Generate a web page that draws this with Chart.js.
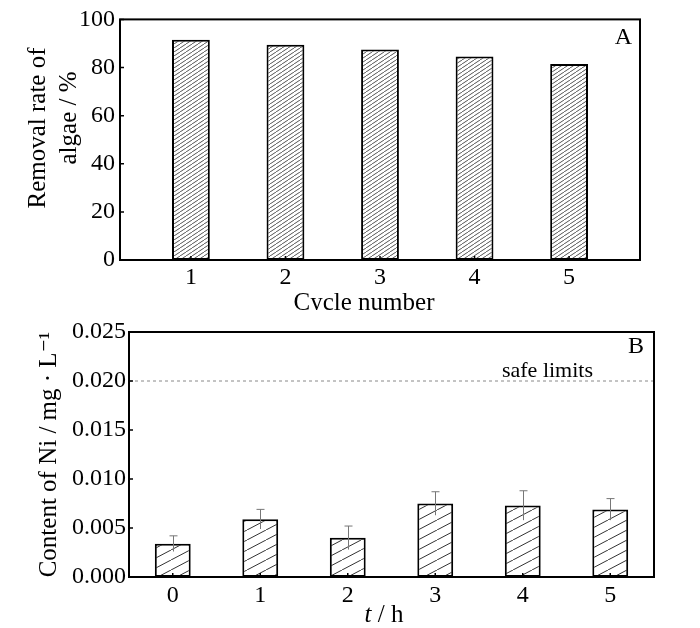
<!DOCTYPE html>
<html><head><meta charset="utf-8">
<script src="https://cdn.jsdelivr.net/npm/chart.js@4"></script>
<style>
html,body{margin:0;padding:0;background:#fff;}
#wrap{position:relative;width:700px;height:628px;background:#fff;}
#cA{position:absolute;left:0;top:0;width:700px;height:310px;}
#cB{position:absolute;left:0;top:310px;width:700px;height:318px;}
</style></head><body>
<div id="wrap"><canvas id="cA" width="700" height="310"></canvas><canvas id="cB" width="700" height="318"></canvas></div>
<script>
// ---- Panel A data ----
const cycles = [1, 2, 3, 4, 5];
const removalRate = [91.5, 89.5, 87.5, 84.6, 81.5];
const removalTicks = [0, 20, 40, 60, 80, 100];
// ---- Panel B data ----
const hours = ['0', '1', '2', '3', '4', '5'];
const niContent = [0.0034, 0.0059, 0.0040, 0.0075, 0.0073, 0.0069];
const niError = [0.0008, 0.0010, 0.0012, 0.0012, 0.0015, 0.0011];
const niTicks = [0, 0.005, 0.010, 0.015, 0.020, 0.025];
const safeLimit = 0.020;

const FONT = "'Liberation Serif','DejaVu Serif',serif";
Chart.defaults.font.family = FONT;
Chart.defaults.font.size = 24;
Chart.defaults.color = '#000';

function makeHatch(w, h, color, lw) {
  const c = document.createElement('canvas'); c.width = w; c.height = h;
  const g = c.getContext('2d');
  g.fillStyle = '#fff'; g.fillRect(0, 0, w, h);
  g.strokeStyle = color; g.lineWidth = lw;
  for (const dx of [-w, 0, w]) { g.beginPath(); g.moveTo(dx, h); g.lineTo(dx + w, 0); g.stroke(); }
  return g.createPattern(c, 'repeat');
}
const patA = makeHatch(6, 4, '#555', 1);
const patB = makeHatch(19, 10, '#333', 1);

function txt(ctx, s, x, y, o = {}) {
  ctx.save();
  ctx.translate(x, y);
  if (o.rot) ctx.rotate(o.rot);
  ctx.font = (o.italic ? 'italic ' : '') + (o.size || 25) + 'px ' + FONT;
  ctx.fillStyle = o.color || '#000';
  ctx.textAlign = o.align || 'center';
  ctx.textBaseline = 'alphabetic';
  ctx.fillText(s, 0, 0);
  ctx.restore();
}

function boxAndTicks(chart, xPix, yPix, len) {
  const { ctx, chartArea: a } = chart;
  ctx.save();
  ctx.strokeStyle = '#000';
  ctx.lineWidth = 1.5;
  ctx.beginPath();
  xPix.forEach(px => { ctx.moveTo(px, a.bottom); ctx.lineTo(px, a.bottom - len); });
  yPix.forEach(py => { ctx.moveTo(a.left, py); ctx.lineTo(a.left + len, py); });
  ctx.stroke();
  ctx.lineWidth = 2;
  ctx.strokeRect(a.left, a.top, a.right - a.left, a.bottom - a.top);
  ctx.restore();
}

const panelA = {
  id: 'panelA',
  afterDraw(chart) {
    const { ctx, chartArea: a, scales: { x, y } } = chart;
    boxAndTicks(chart, cycles.map(v => x.getPixelForValue(v)), removalTicks.map(v => y.getPixelForValue(v)), 4);
    txt(ctx, 'A', a.right - 8, a.top + 25, { size: 24, align: 'right' });
    txt(ctx, 'Cycle number', 364, 310, { size: 25 });
    txt(ctx, 'Removal rate of', 45, 128, { size: 25, rot: -Math.PI / 2 });
    txt(ctx, 'algae / %', 76, 118, { size: 25, rot: -Math.PI / 2 });
  }
};

const panelB = {
  id: 'panelB',
  afterDraw(chart) {
    const { ctx, chartArea: a, scales: { x, y } } = chart;
    const meta = chart.getDatasetMeta(0);
    // safe limit line
    const ly = y.getPixelForValue(safeLimit);
    ctx.save();
    ctx.strokeStyle = '#888'; ctx.lineWidth = 1; ctx.setLineDash([3, 3]);
    ctx.beginPath(); ctx.moveTo(a.left, ly); ctx.lineTo(a.right, ly); ctx.stroke();
    ctx.restore();
    txt(ctx, 'safe limits', a.right - 61, ly - 4, { size: 22, align: 'right' });
    // error bars
    ctx.save();
    ctx.strokeStyle = '#777'; ctx.lineWidth = 1;
    ctx.beginPath();
    meta.data.forEach((bar, i) => {
      const px = Math.round(bar.x) + 0.5;
      const yt = y.getPixelForValue(niContent[i] + niError[i]);
      const yb = y.getPixelForValue(niContent[i] - niError[i]);
      ctx.moveTo(px, yt); ctx.lineTo(px, yb);
      ctx.moveTo(px - 4, yt); ctx.lineTo(px + 4, yt);
    });
    ctx.stroke();
    ctx.restore();
    boxAndTicks(chart, hours.map((h, i) => x.getPixelForTick(i)), niTicks.map(v => y.getPixelForValue(v)), 4);
    txt(ctx, 'B', a.right - 10, a.top + 21, { size: 24, align: 'right' });
    // x title with italic t
    ctx.save();
    ctx.font = 'italic 25px ' + FONT; const w1 = ctx.measureText('t').width;
    ctx.font = '25px ' + FONT; const w2 = ctx.measureText(' / h').width;
    ctx.restore();
    const sx = 384 - (w1 + w2) / 2;
    txt(ctx, 't', sx, 312, { size: 25, italic: true, align: 'left' });
    txt(ctx, ' / h', sx + w1, 312, { size: 25, align: 'left' });
    txt(ctx, 'Content of Ni / mg · L⁻¹', 56, (a.top + a.bottom) / 2, { size: 25, rot: -Math.PI / 2 });
  }
};

new Chart(document.getElementById('cA'), {
  type: 'bar',
  data: {
    datasets: [{
      data: cycles.map((c, i) => ({ x: c, y: removalRate[i] })),
      backgroundColor: patA, borderColor: '#000', borderWidth: 2, borderSkipped: false,
      barPercentage: 0.4, categoryPercentage: 1
    }]
  },
  options: {
    responsive: false, animation: false, devicePixelRatio: 1,
    layout: { padding: { top: 15, right: 60, left: 0, bottom: 0 } },
    plugins: { legend: { display: false }, tooltip: { enabled: false } },
    scales: {
      x: {
        type: 'linear', min: 0.25, max: 5.75, offset: false,
        afterBuildTicks: s => { s.ticks = cycles.map(v => ({ value: v })); },
        grid: { display: false, drawTicks: false, offset: false }, border: { display: false },
        ticks: { padding: 3, font: { size: 24 }, color: '#000' },
        afterFit: s => { s.height = 50; }
      },
      y: {
        min: 0, max: 100,
        afterBuildTicks: s => { s.ticks = removalTicks.map(v => ({ value: v })); },
        grid: { display: false, drawTicks: false }, border: { display: false },
        ticks: { padding: 5, font: { size: 24 }, color: '#000' },
        afterFit: s => { s.width = 120; }
      }
    }
  },
  plugins: [panelA]
});

new Chart(document.getElementById('cB'), {
  type: 'bar',
  data: {
    labels: hours,
    datasets: [{
      data: niContent,
      backgroundColor: patB, borderColor: '#000', borderWidth: 2, borderSkipped: false,
      barPercentage: 0.41, categoryPercentage: 1
    }]
  },
  options: {
    responsive: false, animation: false, devicePixelRatio: 1,
    layout: { padding: { top: 22, right: 46, left: 0, bottom: 0 } },
    plugins: { legend: { display: false }, tooltip: { enabled: false } },
    scales: {
      x: {
        grid: { display: false, drawTicks: false }, border: { display: false },
        ticks: { padding: 4, font: { size: 24 }, color: '#000' },
        afterFit: s => { s.height = 51; }
      },
      y: {
        min: 0, max: 0.025,
        afterBuildTicks: s => { s.ticks = niTicks.map(v => ({ value: v })); },
        grid: { display: false, drawTicks: false }, border: { display: false },
        ticks: { padding: 3, font: { size: 24 }, color: '#000', callback: v => Number(v).toFixed(3) },
        afterFit: s => { s.width = 129; }
      }
    }
  },
  plugins: [panelB]
});
</script>
</body></html>
